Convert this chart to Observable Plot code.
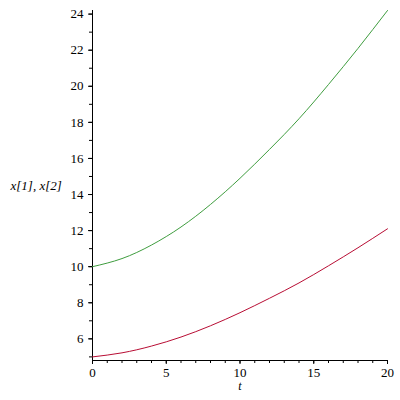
<!DOCTYPE html>
<html>
<head>
<meta charset="utf-8">
<script src="https://cdn.jsdelivr.net/npm/d3@7"></script>
<script src="https://cdn.jsdelivr.net/npm/@observablehq/plot@0.6"></script>
<style>
  html, body { margin: 0; padding: 0; background: #fff; }
</style>
</head>
<body>
<div id="chart"></div>
<script>
const t  = [0, 2, 4, 6, 8, 10, 12, 14, 16, 18, 20];
const x1 = [5.0, 5.225, 5.6, 6.1, 6.725, 7.45, 8.25, 9.1, 10.05, 11.05, 12.1];
const x2 = [10.0, 10.45, 11.2, 12.2, 13.45, 14.9, 16.5, 18.2, 20.1, 22.1, 24.2];
const xMajor = [0, 5, 10, 15, 20];
const xMinor = d3.range(0, 21, 1);
const yMajor = [6, 8, 10, 12, 14, 16, 18, 20, 22, 24];
const yMinor = d3.range(5, 25, 1);
const seriesNames = ["x[1]", "x[2]"];
const seriesColors = ["#b80d34", "#3f9d3f"];

const data = [
  ...t.map((v, i) => ({t: v, y: x1[i], s: seriesNames[0]})),
  ...t.map((v, i) => ({t: v, y: x2[i], s: seriesNames[1]}))
];

const font = "Liberation Serif";

const chart = Plot.plot({
  width: 400,
  height: 400,
  marginLeft: 92,
  marginRight: 13,
  marginTop: 10,
  marginBottom: 40,
  style: {fontFamily: font, fontSize: "13px", background: "#fff", color: "#000"},
  x: {domain: [0, 20]},
  y: {domain: [4.8, 24.2]},
  color: {domain: seriesNames, range: seriesColors},
  marks: [
    Plot.axisX({ticks: xMinor, tickSize: 3, text: null, label: null}),
    Plot.axisX({ticks: xMajor, tickSize: 4, tickPadding: 3, tickFormat: d3.format("d"), label: null, fontSize: 13}),
    Plot.axisY({ticks: yMinor, tickSize: 3, text: null, label: null}),
    Plot.axisY({ticks: yMajor, tickSize: 4, tickPadding: 5, tickFormat: d3.format("d"), label: null, fontSize: 13}),
    Plot.ruleX([0], {stroke: "#000"}),
    Plot.ruleY([4.8], {stroke: "#000"}),
    Plot.line(data, {x: "t", y: "y", z: "s", stroke: "s", strokeWidth: 1, curve: "natural"}),
    Plot.text(["t"], {frameAnchor: "bottom", dy: 29, fontStyle: "italic", fontSize: 12}),
    Plot.text(["x[1], x[2]"], {frameAnchor: "left", dx: -82, textAnchor: "start", fontStyle: "italic", fontSize: 13})
  ]
});
d3.select(chart).selectAll("g, text")
  .attr("font-family", font)
  .style("font-family", font);
d3.select(chart).selectAll("[font-variant]").attr("font-variant", null);
document.getElementById("chart").appendChild(chart);
</script>
</body>
</html>
